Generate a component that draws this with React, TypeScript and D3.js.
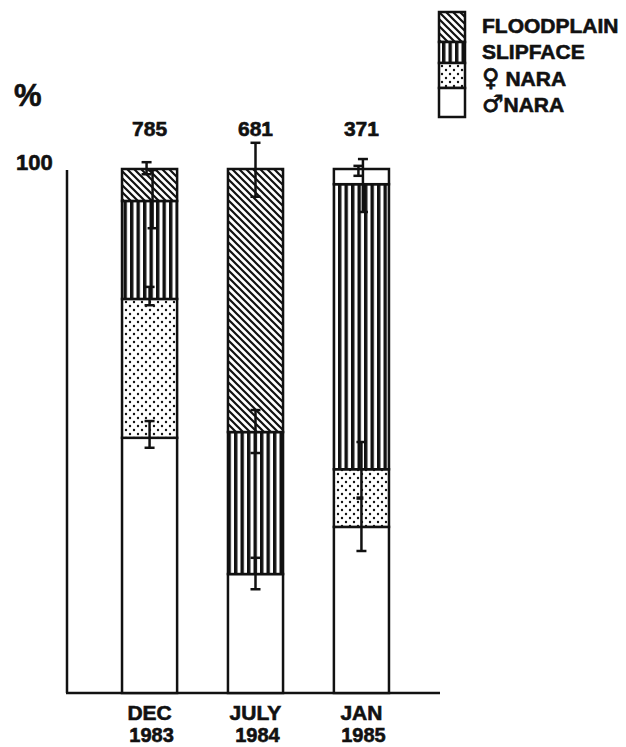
import React from 'react';
import * as d3 from 'd3';

// periods sampled
const periods = ['DEC 1983', 'JULY 1984', 'JAN 1985'];
const sampleSizes = ['785', '681', '371'];

// stacked percentages, bottom to top
const series = ['maleNara', 'femaleNara', 'slipface', 'floodplain'];
const maleNara = [48.7, 22.7, 31.7];
const femaleNara = [26.5, 0, 11.0];
const slipface = [18.7, 27.1, 54.4];
const floodplain = [6.1, 50.2, 2.9];

// segments drawn without their pattern in the original
const plainSegments = [{ period: 'JAN 1985', series: 'floodplain' }];

// error bars: period, low %, high %, nudge (-1 left, 0 centre, 1 right), optional middle tick
const errorBars = [
  { period: 'DEC 1983', low: 99.0, high: 101.3, nudge: -1, mid: null },
  { period: 'DEC 1983', low: 88.7, high: 99.8, nudge: 1, mid: null },
  { period: 'DEC 1983', low: 74.0, high: 77.5, nudge: 0, mid: null },
  { period: 'DEC 1983', low: 46.8, high: 51.9, nudge: 0, mid: null },
  { period: 'JULY 1984', low: 94.7, high: 105.0, nudge: 0, mid: null },
  { period: 'JULY 1984', low: 45.8, high: 54.0, nudge: 0, mid: null },
  { period: 'JULY 1984', low: 19.8, high: 25.8, nudge: 0, mid: null },
  { period: 'JAN 1985', low: 91.8, high: 101.9, nudge: 0.5, mid: null },
  { period: 'JAN 1985', low: 98.7, high: 100.6, nudge: -1, mid: null },
  { period: 'JAN 1985', low: 27.1, high: 47.9, nudge: 0, mid: 37.2 },
];

const legendLabels = [
  { sym: '', text: 'FLOODPLAIN' },
  { sym: '', text: 'SLIPFACE' },
  { sym: '\u2640', text: ' NARA' },
  { sym: '\u2642', text: 'NARA' },
];
const legendSeries = ['floodplain', 'slipface', 'femaleNara', 'maleNara'];
const yTickLabel = '100';

const values: Record<string, number[]> = { maleNara, femaleNara, slipface, floodplain };
const fills: Record<string, string> = {
  floodplain: 'url(#diag)',
  slipface: 'url(#vert)',
  femaleNara: 'url(#dots)',
  maleNara: '#fff',
};

const W = 626;
const H = 747;
const font = '"Liberation Sans", Arial, Helvetica, sans-serif';
const ink = '#111';
const bold = { fontFamily: font, fontWeight: 'bold' as const, fill: ink, stroke: ink, strokeWidth: 0.6 };

export default function App() {
  const y = d3.scaleLinear().domain([0, 100]).range([693, 169]);
  const x = d3.scaleBand<string>().domain(periods).range([68, 443]).paddingInner(0.48).paddingOuter(0.51);
  const bw = x.bandwidth();

  const rows = periods.map((p, i) => {
    const r: Record<string, number | string> = { period: p };
    series.forEach((s) => (r[s] = values[s][i]));
    return r;
  });
  const stacked = d3.stack<Record<string, number | string>>().keys(series)(rows as any);

  const isPlain = (p: string, s: string) => plainSegments.some((d) => d.period === p && d.series === s);

  const legendY = d3.scaleBand<string>().domain(legendSeries).range([12, 117]);
  const legendH = [30, 21, 25, 29];
  let acc = 12;
  const legendRects = legendSeries.map((s, i) => {
    const r = { s, y0: acc, h: legendH[i] };
    acc += legendH[i];
    return r;
  });

  return (
    <svg width={W} height={H} style={{ position: 'absolute', left: 0, top: 0, background: '#fff' }}>
      <defs>
        <pattern id="diag" patternUnits="userSpaceOnUse" width={7} height={7}>
          <rect width={7} height={7} fill="#fff" />
          <path d="M0,0 L7,7 M-2,5 L2,9 M5,-2 L9,2" stroke={ink} strokeWidth={2.2} />
        </pattern>
        <pattern id="vert" patternUnits="userSpaceOnUse" width={6.5} height={6}>
          <rect width={6.5} height={6} fill="#fff" />
          <rect x={0} width={3.4} height={6} fill={ink} />
        </pattern>
        <pattern id="dots" patternUnits="userSpaceOnUse" width={8} height={8}>
          <rect width={8} height={8} fill="#fff" />
          <circle cx={2} cy={2} r={1.2} fill={ink} />
          <circle cx={6} cy={6} r={1.2} fill={ink} />
        </pattern>
      </defs>

      {/* axes */}
      <line x1={67} x2={67} y1={y(100) + 1} y2={y(0)} stroke={ink} strokeWidth={2.5} />
      <line x1={66} x2={440} y1={y(0)} y2={y(0)} stroke={ink} strokeWidth={2.5} />
      <text x={14} y={106} fontSize={31} {...bold}>%</text>
      <text x={16} y={y(100) + 1} fontSize={22} {...bold}>{yTickLabel}</text>

      {/* bars */}
      {stacked.map((layer) =>
        layer.map((d, i) => {
          const p = periods[i];
          const h = y(d[0]) - y(d[1]);
          if (h <= 0) return null;
          return (
            <rect
              key={layer.key + p}
              x={x(p)}
              y={y(d[1])}
              width={bw}
              height={h}
              fill={isPlain(p, layer.key) ? '#fff' : fills[layer.key]}
              stroke={ink}
              strokeWidth={2.5}
            />
          );
        })
      )}

      {/* error bars */}
      {errorBars.map((e, i) => {
        const cx = (x(e.period) as number) + bw / 2 + e.nudge * 3;
        return (
          <g key={i} stroke={ink} strokeWidth={2.5}>
            <line x1={cx} x2={cx} y1={y(e.high)} y2={y(e.low)} />
            <line x1={cx - 5} x2={cx + 5} y1={y(e.high)} y2={y(e.high)} />
            <line x1={cx - 5} x2={cx + 5} y1={y(e.low)} y2={y(e.low)} />
            {e.mid !== null && <line x1={cx - 5} x2={cx + 2} y1={y(e.mid)} y2={y(e.mid)} strokeWidth={3.5} />}
          </g>
        );
      })}

      {/* sample sizes */}
      {periods.map((p, i) => (
        <text key={p} x={(x(p) as number) + bw / 2} y={136} textAnchor="middle" fontSize={21} {...bold}>
          {sampleSizes[i]}
        </text>
      ))}

      {/* x labels */}
      {periods.map((p) => {
        const [m, yr] = p.split(' ');
        const cx = (x(p) as number) + bw / 2;
        return (
          <g key={p} textAnchor="middle">
            <text x={cx} y={720} fontSize={21} {...bold}>{m}</text>
            <text x={cx + 2} y={742} fontSize={20} {...bold}>{yr}</text>
          </g>
        );
      })}

      {/* legend */}
      {legendRects.map((r) => (
        <rect key={r.s} x={439} y={r.y0} width={26} height={r.h} fill={fills[r.s]} stroke={ink} strokeWidth={2.5} />
      ))}
      {legendSeries.map((s, i) => (
        <text key={s} x={482} y={(legendY(s) as number) + legendY.bandwidth() / 2 + 8} fontSize={21} {...bold}>
          {legendLabels[i].sym && (
            <tspan fontFamily='"DejaVu Sans", sans-serif' fontSize={24} strokeWidth={0.8}>{legendLabels[i].sym}</tspan>
          )}
          {legendLabels[i].text}
        </text>
      ))}
    </svg>
  );
}
